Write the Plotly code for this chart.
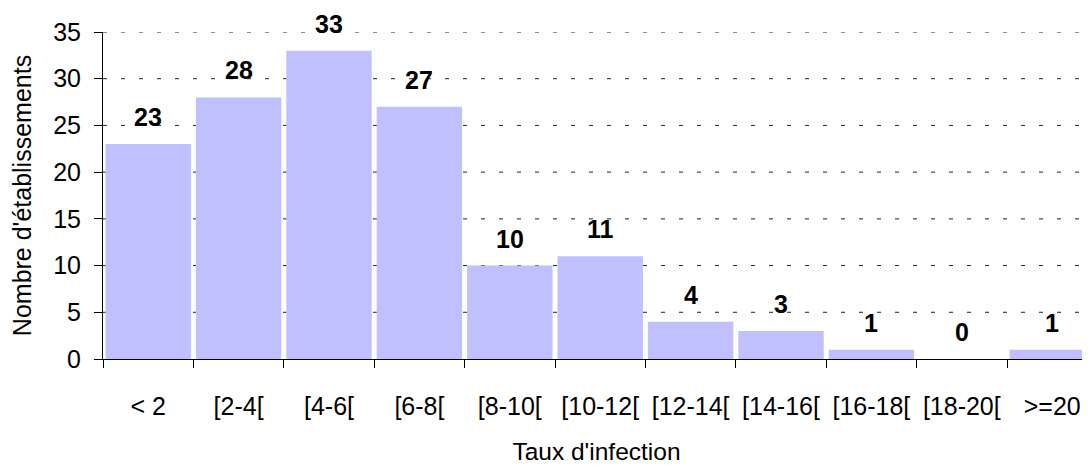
import plotly.graph_objects as go

categories = ["< 2", "[2-4[", "[4-6[", "[6-8[", "[8-10[", "[10-12[", "[12-14[",
              "[14-16[", "[16-18[", "[18-20[", ">=20"]
values = [23, 28, 33, 27, 10, 11, 4, 3, 1, 0, 1]
y_ticks = [0, 5, 10, 15, 20, 25, 30, 35]

FONT = "Liberation Sans, Arial, sans-serif"

fig = go.Figure()
fig.add_trace(go.Bar(
    x=categories, y=values,
    marker=dict(color="#C0C0FF", line=dict(width=0)),
    hoverinfo="x+y",
))

for c, v in zip(categories, values):
    fig.add_annotation(
        x=c, y=v, text=f"<b>{v}</b>", showarrow=False,
        yanchor="middle", yshift=27,
        font=dict(family=FONT, size=25, color="black"),
    )

# dotted gridlines (drawn below the bars)
for t in y_ticks[1:]:
    fig.add_shape(
        type="line", xref="paper", yref="y", x0=0, x1=1, y0=t, y1=t,
        line=dict(color="#222222", width=1, dash="4px,14px"),
        layer="below",
    )

fig.update_layout(
    width=1082, height=457,
    margin=dict(l=95, r=0, t=24, b=106, autoexpand=False),
    paper_bgcolor="white", plot_bgcolor="white",
    bargap=0.055,
    showlegend=False,
    font=dict(family=FONT, color="black"),
    xaxis=dict(
        type="category",
        range=[-0.5, 10.418],
        automargin=False,
        showline=True, linecolor="black", linewidth=1,
        ticks="outside", tickson="boundaries", ticklen=8, tickcolor="black",
        tickfont=dict(family=FONT, size=25, color="black"),
        ticklabelstandoff=25,
        showgrid=False,
        title=dict(text="Taux d'infection", font=dict(family=FONT, size=24.5, color="black"),
                   standoff=30),
    ),
    yaxis=dict(
        range=[0, 35],
        tickvals=y_ticks,
        automargin=False,
        showline=True, linecolor="black", linewidth=1,
        ticks="outside", ticklen=8, tickcolor="black",
        tickfont=dict(family=FONT, size=25, color="black"),
        ticklabelstandoff=8,
        showgrid=False,
        zeroline=False,
        title=dict(text="Nombre d'établissements", font=dict(family=FONT, size=25, color="black"),
                   standoff=17),
    ),
)

fig.write_html("out.html")
